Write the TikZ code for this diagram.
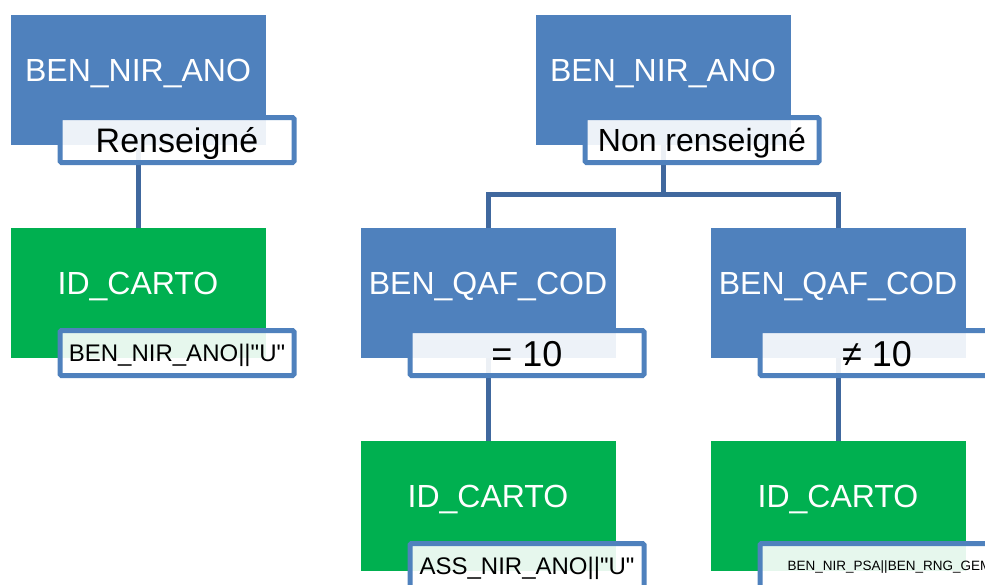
\documentclass[tikz,border=0pt]{standalone}
\usepackage{fontspec}
\setmainfont{Liberation Sans}
\usetikzlibrary{calc}
\definecolor{boxblue}{RGB}{79,129,189}
\definecolor{boxgreen}{RGB}{0,176,80}
\definecolor{linkblue}{RGB}{64,104,158}
\tikzstyle{bluebox}=[rectangle,fill=boxblue,minimum width=255pt,minimum height=130pt,inner sep=0pt,text=white,font=\fontsize{32}{36}\selectfont,text height=23pt,text depth=20pt]
\tikzstyle{greenbox}=[bluebox,fill=boxgreen]
\tikzstyle{condbox}=[rectangle,draw=boxblue,line width=5pt,rounded corners=1.5pt,fill=white,fill opacity=0.9,text opacity=1,minimum width=234pt,minimum height=45pt,inner sep=0pt,text depth=0pt]
\tikzstyle{bigcond}=[condbox,font=\fontsize{32}{36}\selectfont,text height=23pt]
\tikzstyle{numcond}=[condbox,font=\fontsize{36}{40}\selectfont,text height=26pt]
\tikzstyle{smallcond}=[condbox,font=\fontsize{24}{28}\selectfont,text height=17pt]
\tikzstyle{link}=[draw=linkblue,line width=5pt]

\begin{document}
\begin{tikzpicture}[x=1pt,y=-1pt]
  \useasboundingbox (0,0) rectangle (985,584);
  \clip (0,0) rectangle (985,584);

%boxes
    \foreach \pos/\name/\txt in {{(138,80)/nirL/BEN\_NIR\_ANO}, {(663,80)/nirR/BEN\_NIR\_ANO}, {(488,293)/qafEq/BEN\_QAF\_COD}, {(838,293)/qafNe/BEN\_QAF\_COD}}
        \node[bluebox] (\name) at \pos {\txt};
    \foreach \pos/\name in {{(138,293)/cartoL}, {(488,506)/cartoEq}, {(838,506)/cartoNe}}
        \node[greenbox] (\name) at \pos {ID\_CARTO};

%links
    \foreach \source/\dest in {nirL/cartoL, qafEq/cartoEq, qafNe/cartoNe}
        \path[link] (\source.south) -- (\dest.north);
    \coordinate (fork) at (663,194.5);
    \path[link] (nirR.south) -- (fork);
    \path[link] (fork) -| (qafEq.north);
    \path[link] (fork) -| (qafNe.north);

%conditions
    \node[bigcond,font=\fontsize{34}{38}\selectfont,text height=24pt] (condL) at ($(nirL)+(39,60)$) {Renseigné};
    \node[bigcond] (condR) at ($(nirR)+(39,60)$) {Non renseigné};
    \node[numcond] (condEq) at ($(qafEq)+(39,60)$) {= 10};
    \node[numcond] (condNe) at ($(qafNe)+(39,60)$) {≠ 10};
    \node[smallcond] (keyL) at ($(cartoL)+(39,60)$) {BEN\_NIR\_ANO||\textquotedbl U\textquotedbl};
    \node[smallcond] (keyEq) at ($(cartoEq)+(39,60)$) {ASS\_NIR\_ANO||\textquotedbl U\textquotedbl};
    \node[condbox] (keyNe) at ($(cartoNe)+(39,60)$) {};
    \node[anchor=west,inner sep=0pt,font=\fontsize{13.5}{16}\selectfont] (keyNeText) at ([xshift=30pt,yshift=-1pt]keyNe.west) {BEN\_NIR\_PSA||BEN\_RNG\_GEM};

\end{tikzpicture}
\end{document}
